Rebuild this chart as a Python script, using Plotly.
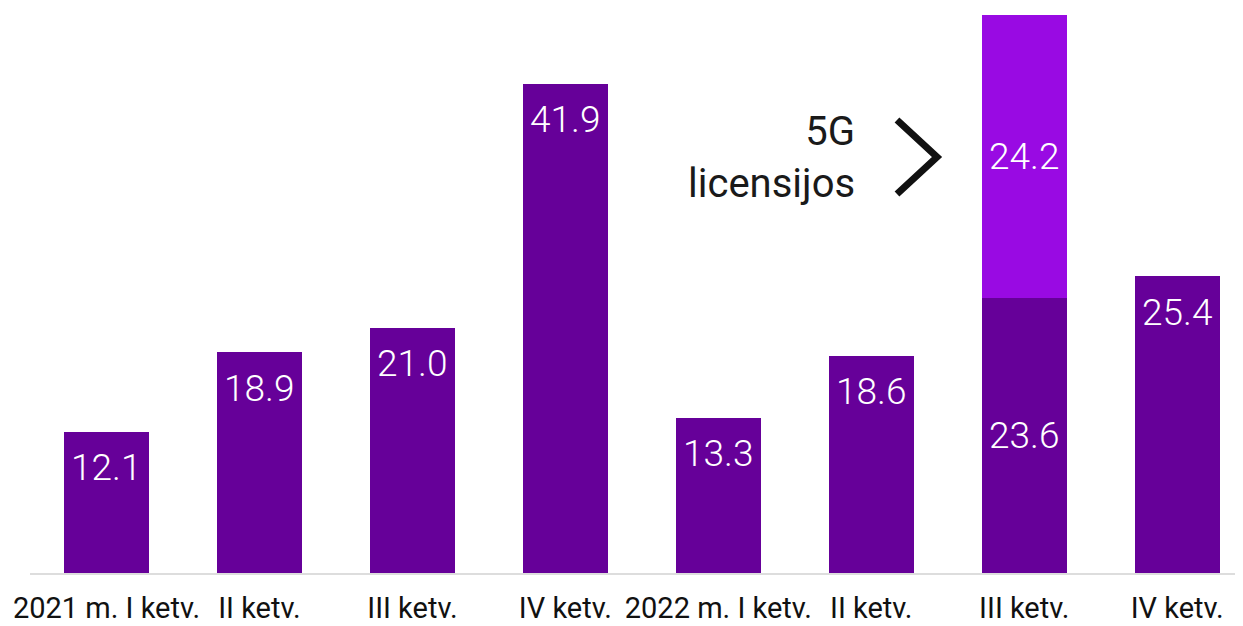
import plotly.graph_objects as go

quarters = ["2021 m. I ketv.", "II ketv.", "III ketv.", "IV ketv.",
            "2022 m. I ketv.", "II ketv.", "III ketv.", "IV ketv."]
base_values = [12.1, 18.9, 21.0, 41.9, 13.3, 18.6, 23.6, 25.4]
license_values = [0, 0, 0, 0, 0, 0, 24.2, 0]
annotation_text = "5G<br>licensijos"

DARK = "#660099"
LIGHT = "#990AE3"
FONT = "Roboto"
LBL = dict(color="white", size=37, family=FONT, weight=300)

x = list(range(len(quarters)))

fig = go.Figure()
fig.add_bar(x=x, y=base_values, marker_color=DARK, marker_line_width=0, width=0.555)
fig.add_bar(x=x, y=license_values, marker_color=LIGHT, marker_line_width=0, width=0.555)

annotations = []
for i, (b, l) in enumerate(zip(base_values, license_values)):
    if l > 0:
        annotations.append(dict(x=i, y=b / 2, text=f"{b:.1f}", showarrow=False, font=LBL))
        annotations.append(dict(x=i, y=b + l / 2, text=f"{l:.1f}", showarrow=False, font=LBL))
    else:
        annotations.append(dict(x=i, y=b, yshift=-36, yanchor="middle", text=f"{b:.1f}",
                                showarrow=False, font=LBL))

# page offset of 8px (body margin) accounted for below
PL, PW, PB, PH = 30, 1213, 573, 565
def px(xp):
    return (xp - PL) / PW
def py(yp):
    return (PB - yp) / PH

annotations.append(dict(xref="paper", yref="paper", x=px(857), y=py(158), xanchor="right",
                        yanchor="middle", align="right", text=annotation_text, showarrow=False,
                        font=dict(color="#1a1a1a", size=40, family=FONT, weight=400)))

chev = f"M {px(897)},{py(120)} L {px(937)},{py(157)} L {px(897)},{py(194)}"

fig.update_layout(
    barmode="stack",
    width=1243, height=626,
    margin=dict(l=22, r=8, t=0, b=61),
    paper_bgcolor="white", plot_bgcolor="white",
    showlegend=False,
    annotations=annotations,
    shapes=[dict(type="path", path=chev, xref="paper", yref="paper",
                 line=dict(color="#111111", width=7))],
    xaxis=dict(tickvals=x, ticktext=quarters, range=[-0.5, 7.43],
               showline=True, linecolor="#dddddd", linewidth=2,
               showgrid=False, zeroline=False, ticks="", ticklabelstandoff=8,
               tickfont=dict(size=29, family=FONT, color="#111111", weight=400)),
    yaxis=dict(range=[0, 48.4], visible=False),
)

fig.write_html("out.html")
